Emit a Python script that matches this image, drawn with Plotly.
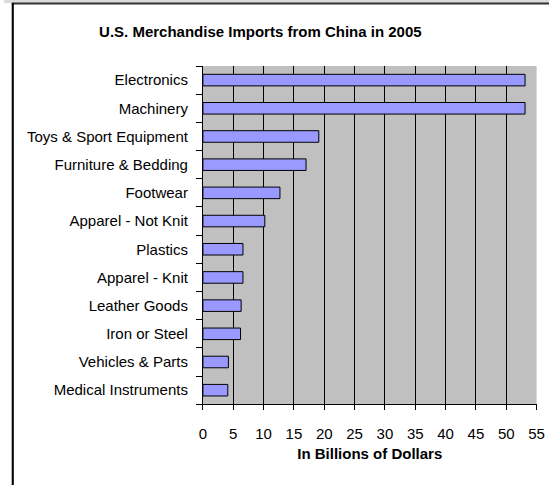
import plotly.graph_objects as go

# U.S. merchandise imports from China, 2005 (billions of dollars)
categories = [
    "Electronics",
    "Machinery",
    "Toys & Sport Equipment",
    "Furniture & Bedding",
    "Footwear",
    "Apparel - Not Knit",
    "Plastics",
    "Apparel - Knit",
    "Leather Goods",
    "Iron or Steel",
    "Vehicles & Parts",
    "Medical Instruments",
]
values = [53.1, 53.1, 19.1, 17.0, 12.7, 10.2, 6.6, 6.6, 6.3, 6.2, 4.2, 4.1]

x_ticks = list(range(0, 60, 5))

W, H = 557, 485
FONT = "Liberation Sans, Arial, sans-serif"


def px_x(p):
    return p / W


def px_y(p):
    return 1 - p / H


fig = go.Figure(
    go.Bar(
        x=values,
        y=categories,
        orientation="h",
        marker=dict(color="#9999FF", line=dict(color="#000000", width=1)),
        hoverinfo="x+y",
    )
)

fig.update_layout(
    width=W,
    height=H,
    margin=dict(l=0, r=0, t=0, b=0),
    paper_bgcolor="#FFFFFF",
    plot_bgcolor="#C0C0C0",
    bargap=0.59,
    showlegend=False,
    font=dict(family=FONT, size=15, color="#000000"),
    title=dict(
        text="<b>U.S. Merchandise Imports from China in 2005</b>",
        x=px_x(262),
        xanchor="center",
        xref="paper",
        y=px_y(32),
        yanchor="middle",
        yref="paper",
        font=dict(family=FONT, size=15, color="#000000"),
    ),
    xaxis=dict(
        domain=[px_x(203.3), px_x(544.3)],
        range=[0, 55],
        tickvals=x_ticks,
        ticktext=[str(v) for v in x_ticks],
        showgrid=True,
        gridcolor="#000000",
        gridwidth=1,
        showline=True,
        linecolor="#000000",
        linewidth=1,
        ticks="outside",
        ticklen=5,
        tickcolor="#000000",
        ticklabelstandoff=11,
        zeroline=False,
        title=dict(
            text="<b>In Billions of Dollars</b>",
            font=dict(family=FONT, size=15, color="#000000"),
            standoff=7,
        ),
        fixedrange=True,
    ),
    yaxis=dict(
        domain=[px_y(404.3), px_y(66)],
        categoryorder="array",
        categoryarray=categories[::-1],
        showgrid=False,
        showline=True,
        linecolor="#000000",
        linewidth=1,
        ticks="outside",
        tickson="boundaries",
        ticklen=6,
        tickcolor="#000000",
        ticklabelstandoff=11,
        zeroline=False,
        fixedrange=True,
    ),
    shapes=[
        # chart frame: shaded strip along the top and thin strip at the left
        dict(type="rect", xref="paper", yref="paper",
             x0=0, x1=1, y0=px_y(3), y1=1,
             fillcolor="#DADADA", line=dict(width=0), layer="below"),
        dict(type="rect", xref="paper", yref="paper",
             x0=px_x(7), x1=px_x(8), y0=0, y1=px_y(3),
             fillcolor="#DDDDDD", line=dict(width=0), layer="below"),
        dict(type="line", xref="paper", yref="paper",
             x0=px_x(8), x1=1, y0=px_y(3.5), y1=px_y(3.5),
             line=dict(color="#333333", width=2)),
        dict(type="line", xref="paper", yref="paper",
             x0=px_x(9), x1=px_x(9), y0=0, y1=px_y(3),
             line=dict(color="#000000", width=2)),
    ],
)

fig.write_html("out.html")
